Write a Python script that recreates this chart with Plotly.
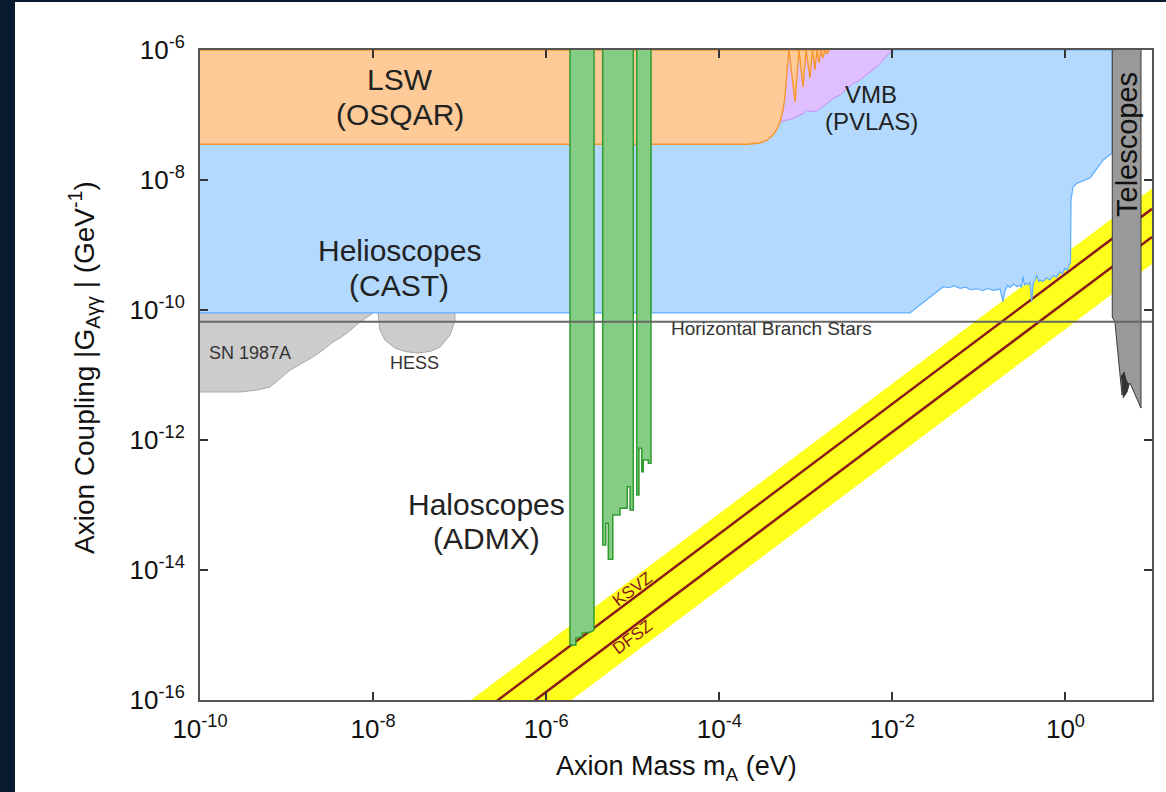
import plotly.graph_objects as go

FONT = "Liberation Sans, Arial, Helvetica, sans-serif"

# ---------------- data (axion mass in eV, coupling in GeV^-1) ----------------
# QCD axion band and model lines
band_mass = [1e-8, 10.0, 10.0, 1e-8]
band_g = [7.4e-18, 7.4e-9, 5.1e-10, 5.1e-19]
ksvz_mass = [1e-8, 10.0]
ksvz_g = [3.6e-18, 3.6e-9]
dfsz_mass = [1e-8, 10.0]
dfsz_g = [1.33e-18, 1.33e-9]

# Horizontal branch stars bound
hb_mass = [1e-10, 10.0]
hb_g = [6.6e-11, 6.6e-11]

# SN 1987A
sn_mass = [1e-10, 2.9e-10, 4.56e-10, 6.44e-10, 1.1e-9, 2.02e-9, 2.64e-9, 3.44e-9,
           4.15e-9, 5.0e-9, 7.06e-9, 1e-8, 1e-8, 1e-10]
sn_g = [5.47e-12, 5.47e-12, 5.87e-12, 6.53e-12, 1.19e-11, 1.89e-11, 2.43e-11, 3.22e-11,
        3.71e-11, 4.43e-11, 6.53e-11, 9.0e-11, 1.2e-10, 1.2e-10]

# HESS
hess_mass = [1.14e-8, 1.14e-8, 1.2e-8, 1.37e-8, 1.79e-8, 2.34e-8, 3.21e-8, 4.55e-8,
             5.93e-8, 7.74e-8, 8.83e-8, 8.83e-8]
hess_g = [1.2e-10, 9.0e-11, 4.92e-11, 3.45e-11, 2.6e-11, 2.3e-11, 2.18e-11, 2.3e-11,
          2.69e-11, 4.12e-11, 6.8e-11, 1.2e-10]

# VMB (PVLAS)
vmb_mass = [4.0e-4, 4.0e-4, 5.26e-4, 7.16e-4, 9.35e-4, 1.023e-3, 1.17e-3, 1.337e-3,
            1.528e-3, 1.742e-3, 2.08e-3, 2.48e-3, 2.96e-3, 3.54e-3, 4.23e-3, 5.27e-3,
            6.59e-3, 7.85e-3, 9.8e-3, 1.0e-2]
vmb_g = [1e-6, 5.5e-8, 7.9e-8, 8.89e-8, 1.06e-7, 1.19e-7, 1.125e-7, 1.153e-7,
         1.31e-7, 1.51e-7, 1.81e-7, 2.03e-7, 2.48e-7, 3.08e-7, 3.45e-7, 4.39e-7,
         5.53e-7, 7.0e-7, 9.4e-7, 1e-6]

# Helioscopes (CAST)
cast_mass = [1e-10, 1.6e-2, 2.08e-2, 3.88e-2, 4.5e-2, 5.2e-2, 6.05e-2, 7.0e-2, 8.0e-2,
             9.44e-2, 0.11, 0.128, 0.1466, 0.1754, 0.1897, 0.2, 0.215, 0.2286, 0.25,
             0.2735, 0.2985, 0.31, 0.3228, 0.335, 0.35, 0.37, 0.389, 0.407, 0.4256,
             0.445, 0.4656, 0.49, 0.508, 0.55, 0.607, 0.66, 0.724, 0.79, 0.865, 0.92,
             0.989, 1.05, 1.107, 1.143, 1.16, 1.222, 1.349, 1.923, 2.735, 3.273, 3.475,
             3.475, 1e-10]
cast_g = [9.0e-11, 9.0e-11, 1.19e-10, 2.28e-10, 2.2e-10, 2.35e-10, 2.16e-10, 2.25e-10, 2.05e-10,
          2.12e-10, 1.98e-10, 2.15e-10, 2.0e-10, 2.1e-10, 1.34e-10, 1.96e-10, 2.4e-10, 2.2e-10, 2.5e-10,
          2.3e-10, 2.4e-10, 2.2e-10, 3.3e-10, 2.4e-10, 2.6e-10, 2.45e-10, 2.7e-10, 1.34e-10, 2.6e-10,
          2.9e-10, 3.45e-10, 2.7e-10, 2.9e-10, 2.75e-10, 3.1e-10, 2.9e-10, 3.4e-10, 3.2e-10, 3.9e-10, 3.6e-10,
          4.4e-10, 4.1e-10, 4.9e-10, 5.47e-10, 4.92e-9, 7.8e-9, 8.89e-9, 1.074e-8, 2.03e-8, 2.43e-8, 2.6e-8,
          1e-6, 1e-6]

# LSW (OSQAR)
lsw_mass = [1e-10, 2.09e-4, 2.96e-4, 3.56e-4, 4.18e-4, 4.65e-4, 5.04e-4, 5.45e-4,
            5.74e-4, 6.05e-4, 6.22e-4, 6.38e-4, 7.5e-4, 8.34e-4, 9.27e-4, 1.005e-3,
            1.117e-3, 1.194e-3, 1.276e-3, 1.346e-3, 1.419e-3, 1.496e-3, 1.578e-3,
            1.663e-3, 1.754e-3, 1.854e-3, 1e-10]
lsw_g = [3.54e-8, 3.54e-8, 3.71e-8, 4.12e-8, 4.92e-8, 6.1e-8, 7.8e-8, 1.19e-7,
         1.89e-7, 4.12e-7, 7.02e-7, 1e-6, 1.585e-7, 1e-6, 2.7e-7, 1e-6,
         3.71e-7, 1e-6, 4.92e-7, 1e-6, 6.31e-7, 1e-6, 7.53e-7,
         1e-6, 8.68e-7, 1e-6, 1e-6]

# Haloscopes (ADMX) - three bands
admx_a_mass = [1.884e-6, 1.884e-6, 2.2e-6, 2.2e-6, 2.6e-6, 2.6e-6, 3.2e-6, 3.57e-6, 3.57e-6]
admx_a_g = [1e-6, 7.0e-16, 7.0e-16, 9.0e-16, 9.4e-16, 1.07e-15, 1.1e-15, 1.19e-15, 1e-6]
admx_b_mass = [4.5e-6, 4.5e-6, 4.88e-6, 4.88e-6, 5.22e-6, 5.22e-6, 5.88e-6, 5.88e-6,
               7.13e-6, 7.13e-6, 8.65e-6, 8.65e-6, 9.31e-6, 9.31e-6, 1.016e-5, 1.016e-5]
admx_b_g = [1e-6, 2.43e-14, 2.43e-14, 5.22e-14, 5.22e-14, 1.46e-14, 1.46e-14, 7.02e-14,
            7.02e-14, 8.89e-14, 8.89e-14, 1.91e-13, 1.91e-13, 8.38e-14, 8.38e-14, 1e-6]
admx_c_mass = [1.112e-5, 1.112e-5, 1.18e-5, 1.18e-5, 1.27e-5, 1.27e-5, 1.324e-5, 1.324e-5,
               1.514e-5, 1.514e-5, 1.626e-5, 1.626e-5]
admx_c_g = [1e-6, 1.426e-13, 1.426e-13, 7.45e-13, 7.45e-13, 3.25e-13, 3.25e-13, 4.92e-13,
            4.92e-13, 4.39e-13, 4.39e-13, 1e-6]

# Telescopes
tel_mass = [3.475, 3.475, 3.73, 4.5, 5.57, 7.46, 7.46]
tel_g = [1e-6, 7.8e-11, 6.53e-11, 4.92e-12, 7.53e-12, 3.1e-12, 1e-6]
tel_dark_mass = [4.39, 4.75, 5.01, 5.42, 5.14, 4.62]
tel_dark_g = [9.31e-12, 1.11e-11, 8.38e-12, 7.02e-12, 5.47e-12, 4.43e-12]

# Axis ticks
x_tickvals = [1e-10, 1e-8, 1e-6, 1e-4, 1e-2, 1e0]
x_ticktext = ["10<sup>-10</sup>", "10<sup>-8</sup>", "10<sup>-6</sup>",
              "10<sup>-4</sup>", "10<sup>-2</sup>", "10<sup>0</sup>"]
y_tickvals = [1e-16, 1e-14, 1e-12, 1e-10, 1e-8, 1e-6]
y_ticktext = ["10<sup>-16</sup>", "10<sup>-14</sup>", "10<sup>-12</sup>",
              "10<sup>-10</sup>", "10<sup>-8</sup>", "10<sup>-6</sup>"]

# ---------------- figure ----------------
fig = go.Figure()


def region(x, y, fill, line, width=1.0):
    fig.add_trace(go.Scatter(x=x, y=y, mode="lines", fill="toself", fillcolor=fill,
                             line=dict(color=line, width=width), hoverinfo="skip",
                             showlegend=False))


def curve(x, y, color, width):
    fig.add_trace(go.Scatter(x=x, y=y, mode="lines", line=dict(color=color, width=width),
                             hoverinfo="skip", showlegend=False))


region(band_mass, band_g, "#FFFF1E", "rgba(0,0,0,0)", 0)
curve(ksvz_mass, ksvz_g, "#8B1A1A", 2.5)
curve(dfsz_mass, dfsz_g, "#8B1A1A", 2.5)
region(sn_mass, sn_g, "#CCCCCC", "#A8A8A8", 1)
region(hess_mass, hess_g, "#CCCCCC", "#A8A8A8", 1)
region(cast_mass, cast_g, "#B3D9FF", "#5EAEFF", 1.2)
region(vmb_mass, vmb_g, "#DFBFFF", "#C58BF2", 1)
region(lsw_mass, lsw_g, "#FDCA98", "#F7962E", 1.4)
region(admx_a_mass, admx_a_g, "#85CC85", "#2E9B2E", 1.5)
region(admx_b_mass, admx_b_g, "#85CC85", "#2E9B2E", 1.5)
region(admx_c_mass, admx_c_g, "#85CC85", "#2E9B2E", 1.5)
region(tel_mass, tel_g, "#999999", "#3A3A3A", 1)
region(tel_dark_mass, tel_dark_g, "#333333", "#333333", 1)
curve(hb_mass, hb_g, "#666666", 2)


def px_x(px):
    return (px - 200) / 952.0


def px_y(py):
    return (700 - py) / 650.0


def label(text, px, py, size, color="#222222", angle=0):
    fig.add_annotation(text=text, x=px_x(px), y=px_y(py), xref="paper", yref="paper",
                       showarrow=False, textangle=angle, xanchor="center", yanchor="middle",
                       font=dict(family=FONT, size=size, color=color))


label("LSW", 400, 80, 30)
label("(OSQAR)", 400, 115, 30)
label("Helioscopes", 399, 251, 30)
label("(CAST)", 399, 285, 30)
label("Haloscopes", 486, 505, 30)
label("(ADMX)", 486, 538, 30)
label("VMB", 871, 95, 24)
label("(PVLAS)", 871, 121, 24)
label("SN 1987A", 250, 353, 18, "#333333")
label("HESS", 414, 363, 18, "#333333")
label("Horizontal Branch Stars", 771, 328, 19, "#333333")
label("Telescopes", 1127, 145, 29, "#111111", -90)
label("KSVZ", 632, 589, 17, "#8B1A1A", -37)
label("DFSZ", 632, 637, 17, "#8B1A1A", -37)
label("Axion Mass m<sub>A</sub> (eV)", 676, 768, 27, "#111111")
label("Axion Coupling |G<sub>Aγγ</sub> | (GeV<sup>-1</sup>)", 84, 368, 28, "#111111", -90)

# dark slide background strips
fig.add_shape(type="rect", xref="paper", yref="paper", x0=px_x(-5), x1=px_x(15),
              y0=px_y(800), y1=px_y(-5), fillcolor="#081a2e", line=dict(width=0))
fig.add_shape(type="rect", xref="paper", yref="paper", x0=px_x(-5), x1=px_x(1170),
              y0=px_y(2), y1=px_y(-5), fillcolor="#081a2e", line=dict(width=0))

axis_common = dict(type="log", showgrid=False, zeroline=False, showline=True, mirror="ticks",
                   linecolor="#555555", linewidth=2, ticks="inside", ticklen=8,
                   tickcolor="#333333", tickwidth=1.5,
                   tickfont=dict(family=FONT, size=26, color="#111111"))

fig.update_xaxes(range=[-10, 1], tickvals=x_tickvals, ticktext=x_ticktext,
                 ticklabelstandoff=5, **axis_common)
fig.update_yaxes(range=[-16, -6], tickvals=y_tickvals, ticktext=y_ticktext,
                 ticklabelstandoff=8, **axis_common)

fig.update_layout(width=1166, height=792, margin=dict(l=200, r=14, t=50, b=92),
                  paper_bgcolor="white", plot_bgcolor="white",
                  font=dict(family=FONT), showlegend=False)

fig.write_html("out.html", config={"displayModeBar": False},
               post_script="document.body.style.margin='0px';document.body.style.overflow='hidden';")
